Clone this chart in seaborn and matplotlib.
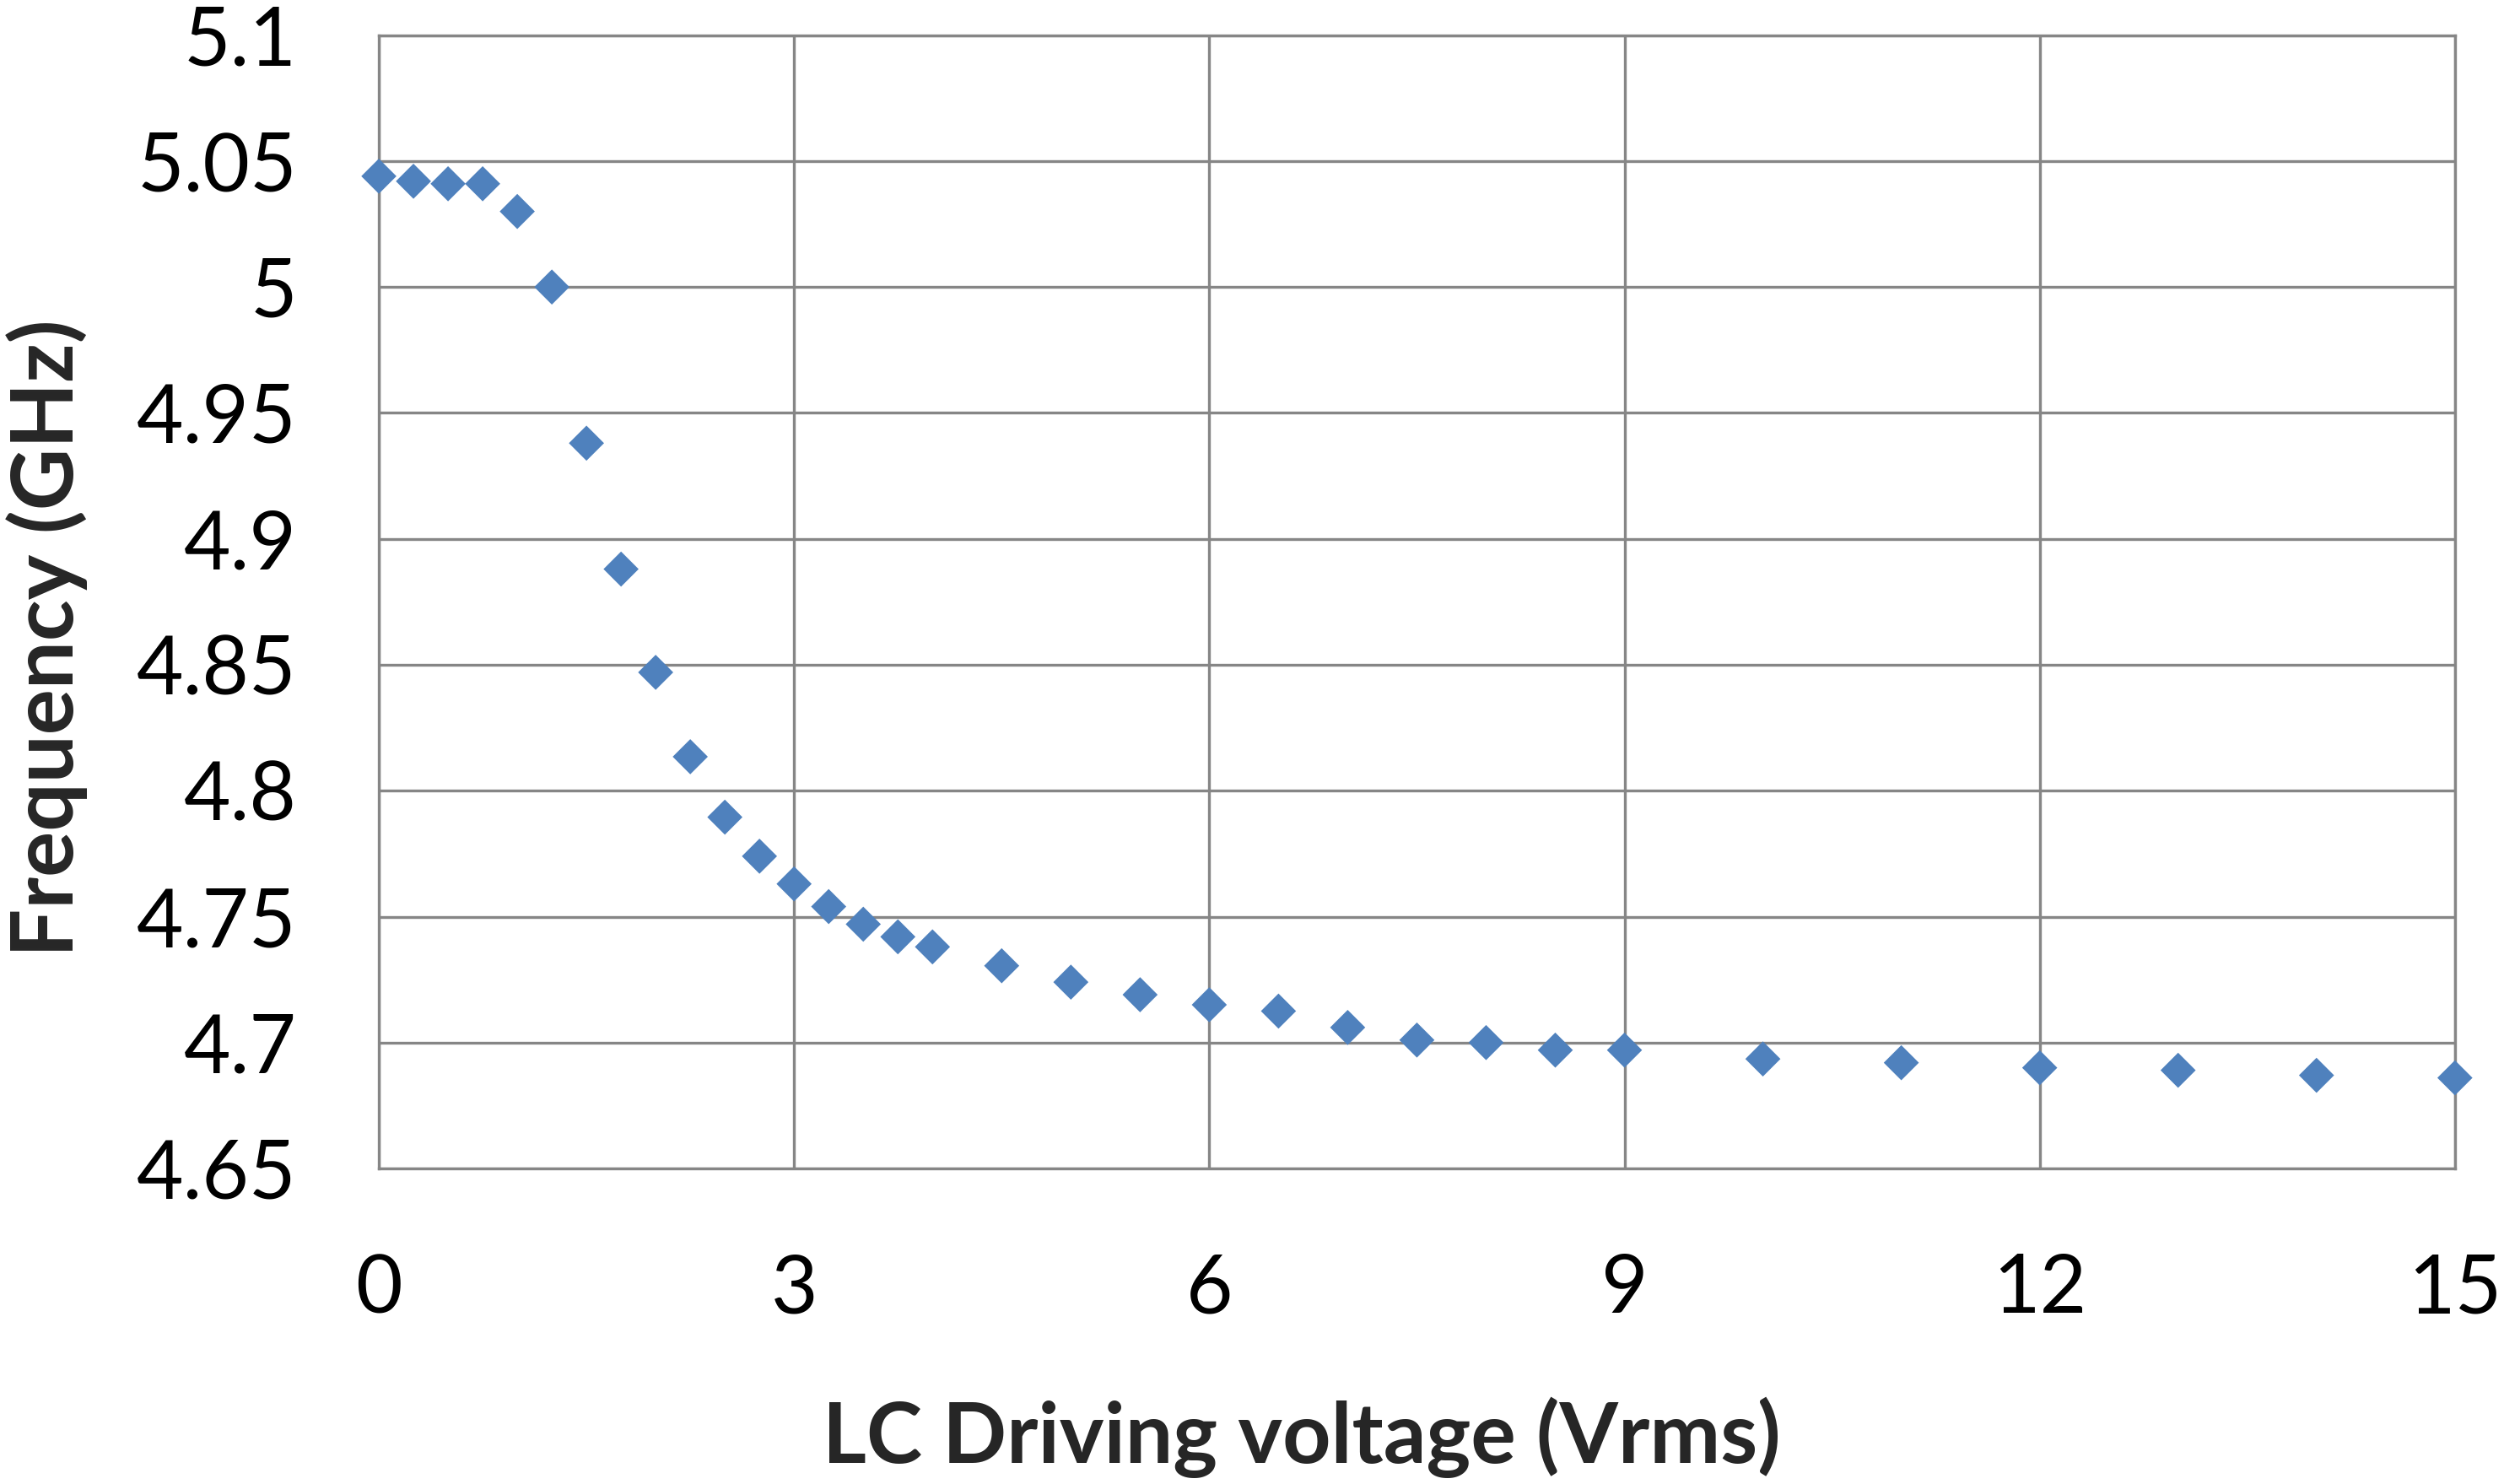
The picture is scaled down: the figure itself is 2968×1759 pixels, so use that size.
import seaborn as sns
import pandas as pd
import numpy as np
import matplotlib.pyplot as plt

# LC driving voltage (Vrms) and resonant frequency (GHz)
voltage = [0, 0.25, 0.5, 0.75, 1.0, 1.25, 1.5, 1.75, 2.0, 2.25, 2.5, 2.75,
           3.0, 3.25, 3.5, 3.75, 4.0, 4.5, 5.0, 5.5, 6.0, 6.5, 7.0, 7.5,
           8.0, 8.5, 9.0, 10, 11, 12, 13, 14, 15]
frequency = [5.044, 5.042, 5.041, 5.041, 5.030, 5.000, 4.938, 4.888, 4.847,
             4.8135, 4.7895, 4.774, 4.763, 4.754, 4.747, 4.742, 4.738,
             4.7305, 4.724, 4.719, 4.715, 4.7125, 4.706, 4.701, 4.700,
             4.697, 4.697, 4.6935, 4.692, 4.690, 4.689, 4.687, 4.686]

x_ticks = [0, 3, 6, 9, 12, 15]
y_ticks = [4.65, 4.7, 4.75, 4.8, 4.85, 4.9, 4.95, 5.0, 5.05, 5.1]
y_tick_labels = ["4.65", "4.7", "4.75", "4.8", "4.85", "4.9", "4.95", "5", "5.05", "5.1"]

df = pd.DataFrame({"voltage": voltage, "frequency": frequency})

sns.set_style("white")
plt.rcParams['font.family'] = ['Lato', 'DejaVu Sans']

fig = plt.figure(figsize=(29.68, 17.59), dpi=100)
ax = fig.add_axes([0.1513, 0.2126, 0.8291, 0.7637])

sns.scatterplot(data=df, x="voltage", y="frequency", marker="D", s=450,
                color="#4F81BD", edgecolor="none", linewidth=0, ax=ax,
                zorder=3, clip_on=False)

ax.set_xlim(0, 15)
ax.set_ylim(4.65, 5.1)
ax.set_xticks(x_ticks)
ax.set_xticklabels([str(t) for t in x_ticks])
ax.set_yticks(y_ticks)
ax.set_yticklabels(y_tick_labels)
ax.grid(True, color="#868686", linewidth=2.4)
ax.set_axisbelow(True)
for sp in ax.spines.values():
    sp.set_color("#868686")
    sp.set_linewidth(2.4)

ax.tick_params(axis="both", length=0, labelsize=69, colors="black")
ax.tick_params(axis="y", pad=70)
ax.tick_params(axis="x", pad=72)

ax.set_xlabel("LC Driving voltage (Vrms)", fontsize=72, fontweight="bold", va="center")
ax.set_ylabel("Frequency (GHz)", fontsize=73, fontweight="bold", va="center")
ax.xaxis.set_label_coords(0.4445, -0.2375)
ax.yaxis.set_label_coords(-0.160, 0.468)

fig.savefig("out.png", dpi=100)
